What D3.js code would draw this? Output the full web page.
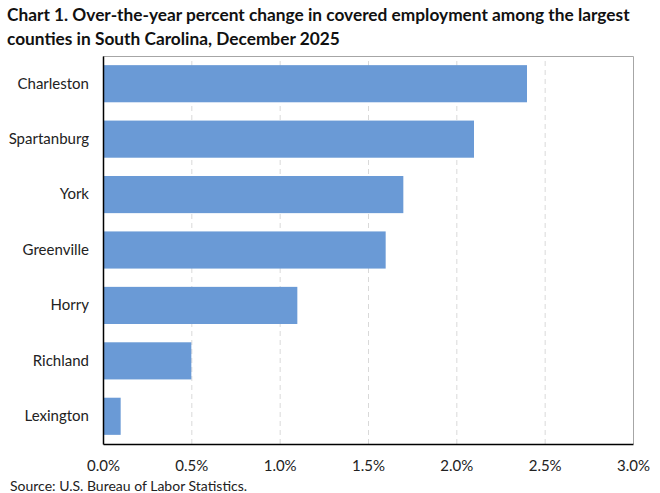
<!doctype html>
<html lang="en">
<head>
  <meta charset="utf-8">
  <title>Chart 1</title>
  <script src="https://cdn.jsdelivr.net/npm/d3@7"></script>
  <style>
    body { margin: 0; background: #fff; }
    text { font-family: Lato, "Liberation Sans", sans-serif; fill: #222; }
    .grid line { stroke: #d9d9d9; stroke-dasharray: 5,4; }
  </style>
</head>
<body>
  <svg id="chart"></svg>
  <script>
    'use strict';

    var counties = ["Charleston", "Spartanburg", "York", "Greenville", "Horry", "Richland", "Lexington"];
    var changes = [2.4, 2.1, 1.7, 1.6, 1.1, 0.5, 0.1];
    var xTicks = [0, 0.5, 1.0, 1.5, 2.0, 2.5, 3.0];
    var titleLines = [
      "Chart 1. Over-the-year percent change in covered employment among the largest",
      "counties in South Carolina, December 2025"
    ];
    var source = "Source: U.S. Bureau of Labor Statistics.";

    var WIDTH = 660;
    var HEIGHT = 493;
    var plotLeft = 103, plotRight = 633, plotTop = 56, plotBottom = 444;

    var svg = d3.select("#chart").attr("width", WIDTH).attr("height", HEIGHT);

    var x = d3.scaleLinear().domain([0, 3]).range([plotLeft, plotRight]);
    var y = d3.scaleBand().domain(counties).range([plotTop, plotBottom]).paddingInner(0.33).paddingOuter(0.165);

    // title
    svg.append("g").selectAll("text").data(titleLines).enter().append("text")
      .attr("x", 7)
      .attr("y", function(d, i) { return 21 + i * 24; })
      .attr("font-size", 17.3)
      .attr("font-weight", "bold")
      .style("fill", "#111")
      .text(function(d) { return d; });

    // vertical gridlines
    svg.append("g")
      .attr("class", "grid")
      .attr("transform", "translate(0," + plotBottom + ")")
      .call(d3.axisBottom(x).tickValues(xTicks.slice(1, -1)).tickSize(-(plotBottom - plotTop)).tickFormat(""))
      .call(function(g) { g.select(".domain").remove(); });

    // frame top + right
    svg.append("path")
      .attr("d", "M" + plotLeft + "," + (plotTop + 0.5) + "H" + (plotRight + 0.5) + "V" + plotBottom)
      .attr("fill", "none")
      .attr("stroke", "#a6a6a6")
      .attr("stroke-width", 1);

    // bars
    svg.append("g").selectAll("rect").data(counties).enter().append("rect")
      .attr("x", x(0))
      .attr("y", function(d) { return y(d); })
      .attr("width", function(d, i) { return x(changes[i]) - x(0); })
      .attr("height", y.bandwidth())
      .attr("fill", "#6a9ad6");

    // x axis
    var xAxis = svg.append("g")
      .attr("transform", "translate(0," + plotBottom + ")")
      .call(d3.axisBottom(x).tickValues(xTicks).tickSize(0).tickPadding(16)
        .tickFormat(function(d) { return d.toFixed(1) + "%"; }));
    xAxis.select(".domain").attr("stroke", "#000").attr("stroke-width", 1.5);
    xAxis.selectAll("text").attr("font-size", 15).style("font-family", "Lato, sans-serif").style("fill", "#222");

    // y axis
    var yAxis = svg.append("g")
      .attr("transform", "translate(" + plotLeft + ",0)")
      .call(d3.axisLeft(y).tickSize(0).tickPadding(14));
    yAxis.select(".domain").attr("stroke", "#000").attr("stroke-width", 1.5);
    yAxis.selectAll("text").attr("font-size", 15).style("font-family", "Lato, sans-serif").style("fill", "#222");

    // source
    svg.append("text")
      .attr("x", 10)
      .attr("y", 491)
      .attr("font-size", 14)
      .text(source);
  </script>
</body>
</html>
